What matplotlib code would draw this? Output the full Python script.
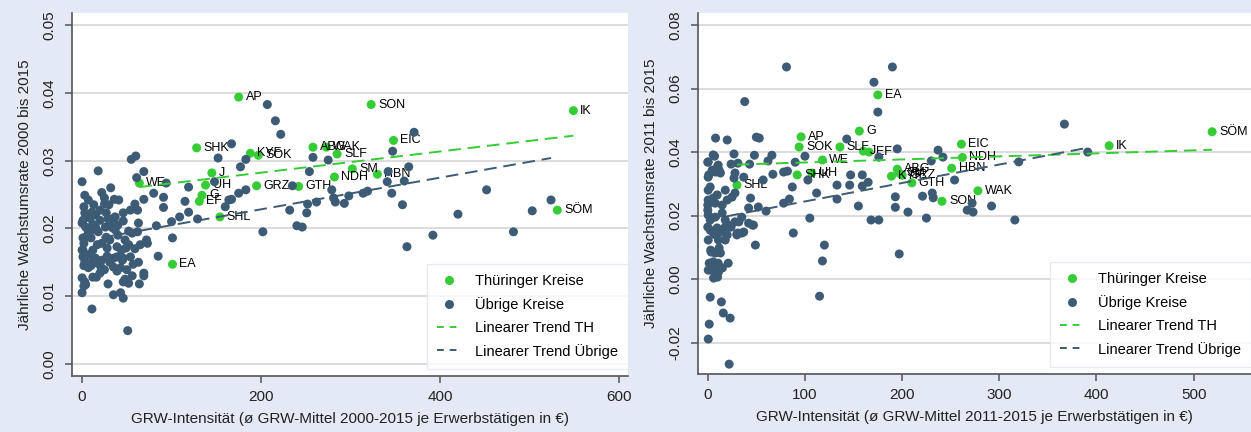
import numpy as np
import matplotlib
matplotlib.use("Agg")
import matplotlib.pyplot as plt
from matplotlib.lines import Line2D

plt.rcParams['font.family'] = ['Liberation Sans', 'DejaVu Sans']

# ---- panel 1: 2000-2015 ----
th_labels_1 = ["AP", "SHK", "KYF", "SOK", "J", "WE", "UH", "GRZ", "GTH", "G", "EF", "SHL",
               "ABG", "WAK", "SLF", "SON", "IK", "EIC", "SM", "NDH", "HBN", "SÖM", "EA"]
th_x_1 = [175, 128, 188, 197, 145, 64, 138, 195, 242, 134, 131, 154,
          258, 273, 285, 323, 549, 348, 302, 282, 330, 531, 101]
th_y_1 = [0.0394, 0.0319, 0.0311, 0.0308, 0.0282, 0.0267, 0.0264, 0.0263, 0.0262, 0.0249, 0.0240, 0.0217,
          0.0320, 0.0320, 0.0310, 0.0383, 0.0374, 0.0330, 0.0288, 0.0276, 0.0280, 0.0227, 0.0147]

other_x_1 = [207, 216, 222, 167, 152, 183, 177, 258, 254, 235, 55, 60, 61, 69, 18, 0, 3, 22, 32, 94,
             119, 80, 91, 69, 59, 115, 148, 175, 183, 167, 160, 252, 262, 232, 251, 129, 119, 109, 91,
             100, 83, 63, 101, 85, 72, 73, 69, 69, 64, 51, 11, 0, 2, 12, 0, 29, 35, 43, 46, 48, 50, 56,
             43, 39, 46, 22, 10, 1, 1,
             2, 4, 7, 1, 11, 15, 18, 26, 27, 31, 37, 39, 44, 52, 56, 62, 37, 46, 46, 54, 62, 27, 29, 35,
             25, 30, 2, 3, 1, 0, 11, 9, 12, 9, 41, 36, 59, 65, 54, 63, 35, 45, 15, 17, 21, 3, 7, 35, 39,
             46, 52, 3, 4, 20, 25, 16, 2, 0, 12, 17, 22, 28, 31, 40, 48, 52, 7, 13, 20, 15, 20, 25, 34,
             40, 4, 10, 7, 11, 28, 31, 49, 57,
             371, 275, 347, 365, 342, 341, 360, 279, 346, 319, 314, 298, 281, 283, 293, 452, 358, 420,
             503, 524, 240, 246, 392, 482, 202, 363, 164]
other_y_1 = [0.0383, 0.0359, 0.0339, 0.0325, 0.0304, 0.0302, 0.0291, 0.0305, 0.0284, 0.0263, 0.0302,
             0.0307, 0.0275, 0.0284, 0.0285, 0.0269, 0.0249, 0.0253, 0.0260, 0.0267, 0.0261, 0.0252,
             0.0246, 0.0243, 0.0236, 0.0240, 0.0269, 0.0252, 0.0257, 0.0243, 0.0232, 0.0236, 0.0239,
             0.0227, 0.0223, 0.0214, 0.0224, 0.0217, 0.0231,
             0.0210, 0.0204, 0.0208, 0.0186, 0.0159, 0.0183, 0.0178, 0.0134, 0.0130, 0.0118, 0.0049,
             0.0081, 0.0105, 0.0115, 0.0128, 0.0127, 0.0118, 0.0102, 0.0105, 0.0097, 0.0125, 0.0139,
             0.0130, 0.0142, 0.0158, 0.0156, 0.0153, 0.0145, 0.0158, 0.0168,
             0.0178, 0.0187, 0.0195, 0.0186, 0.0198, 0.0202, 0.0195, 0.0202, 0.0187, 0.0183, 0.0198,
             0.0173, 0.0168, 0.0196, 0.0193, 0.0195, 0.0217, 0.0211, 0.0223, 0.0227, 0.0227, 0.0223,
             0.0214, 0.0215, 0.0236, 0.0235, 0.0232, 0.0223, 0.0212, 0.0208, 0.0224, 0.0215, 0.0206,
             0.0198, 0.0242, 0.0243, 0.0170, 0.0176, 0.0158, 0.0150, 0.0156, 0.0153, 0.0156, 0.0149,
             0.0143, 0.0150, 0.0142, 0.0143, 0.0137, 0.0121, 0.0119, 0.0121, 0.0117, 0.0134, 0.0139,
             0.0128, 0.0145, 0.0168, 0.0168, 0.0176, 0.0178, 0.0171, 0.0205, 0.0190, 0.0183, 0.0176,
             0.0242, 0.0235, 0.0227, 0.0220, 0.0212, 0.0245, 0.0201, 0.0205, 0.0202, 0.0186, 0.0161,
             0.0150, 0.0159, 0.0150, 0.0171, 0.0147,
             0.0342, 0.0301, 0.0314, 0.0291, 0.0284, 0.0269, 0.0270, 0.0257, 0.0252, 0.0255, 0.0252,
             0.0248, 0.0245, 0.0239, 0.0237, 0.0257, 0.0235, 0.0221, 0.0226, 0.0242, 0.0204, 0.0202,
             0.0190, 0.0195, 0.0195, 0.0173, 0.0242]

# ---- panel 2: 2011-2015 ----
th_labels_2 = ["EA", "G", "AP", "SOK", "SLF", "J", "EF", "WE", "UH", "SHK", "SHL", "ABG",
               "KYF", "SM", "GRZ", "GTH", "SON", "WAK", "EIC", "NDH", "HBN", "IK", "SÖM"]
th_x_2 = [175, 156, 96, 94, 136, 160, 166, 118, 107, 92, 30, 195,
          189, 197, 200, 210, 241, 278, 261, 262, 251, 413, 519]
th_y_2 = [0.0580, 0.0466, 0.0448, 0.0416, 0.0416, 0.0403, 0.0400, 0.0375, 0.0334, 0.0328, 0.0296, 0.0346,
          0.0324, 0.0334, 0.0327, 0.0303, 0.0245, 0.0278, 0.0425, 0.0383, 0.0349, 0.0420, 0.0464]

other_x_2 = [81, 190, 171, 175, 38, 8, 20, 50, 53, 143, 195, 237, 242, 230, 176, 0, 7, 27, 24, 31,
             48, 43, 62, 66, 90, 100, 10, 1, 13, 8, 28, 37, 57, 67, 78, 82, 87, 103, 133, 147, 146,
             159, 165, 112, 84, 193, 193, 155, 206, 221, 231, 232, 78, 60, 52, 44, 105, 168, 176, 225,
             367, 391, 320, 254, 272, 267, 273, 292, 316, 159, 133, 88, 49, 120, 118, 197, 115, 2.5,
             14, 16, 23, 1.5, 0.5, 22, 21, 30, 37, 0.5, 8, 11, 18, 3, 13, 5, 8, 0.5, 11, 6, 10, 15,
             5.6, 0.4, 4.5, 0.4, 10.7, 11.7, 27, 18, 2.5, 0.4, 9.7, 5.6, 0.4, 0, 7.6, 14.8, 20, 25, 28,
             42, 0, 0.4, 2.5, 7.6, 14.8, 18, 21, 28, 35, 31, 42, 47, 0, 2.5, 5.6, 9.7, 14.8, 20, 23,
             3.5, 7.6, 11.7, 1.5, 5.6, 10.7, 14, 7.6, 3.5, 18, 24, 30, 35, 46, 32]
other_y_2 = [0.0668, 0.0668, 0.0620, 0.0526, 0.0559, 0.0444, 0.0438, 0.0447, 0.0444, 0.0441, 0.0410,
             0.0406, 0.0384, 0.0372, 0.0384, 0.0368, 0.0387, 0.0394, 0.0362, 0.0365, 0.0390, 0.0362,
             0.0372, 0.0390, 0.0368, 0.0387, 0.0353, 0.0328, 0.0334, 0.0337, 0.0334, 0.0321, 0.0312,
             0.0330, 0.0337, 0.0340, 0.0290, 0.0312, 0.0296, 0.0328, 0.0296, 0.0328, 0.0305, 0.0271,
             0.0252, 0.0259, 0.0226, 0.0230, 0.0211, 0.0261, 0.0271, 0.0256, 0.0239, 0.0214, 0.0227,
             0.0255, 0.0192, 0.0186, 0.0186, 0.0192, 0.0488, 0.0400, 0.0369, 0.0312, 0.0239, 0.0217,
             0.0211, 0.0230, 0.0186, 0.0293, 0.0252, 0.0145, 0.0107, 0.0107, 0.0057, 0.0079, -0.0054,
             -0.0057, -0.0072, -0.0107, -0.0123, -0.0142, -0.0189, -0.0268, 0.0050, 0.0142, 0.0148,
             0.0123, 0.0139, 0.0123, 0.0123, 0.0091, 0.0082, 0.0050, 0.0038, 0.0028, 0.0022, 0.0003,
             0.0006, 0.0035,
             0.0391, 0.0369, 0.0343, 0.0321, 0.0359, 0.0343, 0.0318, 0.0280, 0.0290, 0.0280, 0.0265,
             0.0255, 0.0249, 0.0233, 0.0239, 0.0233, 0.0249, 0.0258, 0.0271, 0.0224, 0.0217, 0.0202,
             0.0186, 0.0195, 0.0208, 0.0186, 0.0170, 0.0180, 0.0195, 0.0145, 0.0176, 0.0170, 0.0164,
             0.0154, 0.0145, 0.0161, 0.0148, 0.0139, 0.0164,
             0.0085, 0.0082, 0.0098, 0.0050, 0.0054, 0.0050, 0.0035, 0.0028, 0.0028, 0.0164, 0.0164,
             0.0139, 0.0145, 0.0170, 0.0180]

BG = "#E3EAF5"
GREEN = "#36CC36"
NAVY = "#3D5B75"
GRID = "#D9D9D9"
AXIS = "#555555"


def trend(ax, x, y, color):
    """Linear fit drawn over the x range of the group (like Stata lfit)."""
    x = np.asarray(x, float)
    y = np.asarray(y, float)
    b, a = np.polyfit(x, y, 1)
    xs = np.array([x.min(), x.max()])
    ax.plot(xs, a + b * xs, color=color, lw=1.4, dashes=(6.5, 3.5), zorder=5)


def panel(ax, tx, ty, tlab, ox, oy, xlim, ylim, xticks, yticks, xlabel, ylabel):
    ax.set_facecolor("white")
    ax.scatter(tx, ty, s=42, color=GREEN, edgecolors="none", zorder=3)
    for lab, x, y in zip(tlab, tx, ty):
        ax.annotate(lab, (x, y), xytext=(5, 0), textcoords="offset points",
                    va="center", ha="left", fontsize=9, color="black", zorder=3)
    ax.scatter(ox, oy, s=42, color=NAVY, edgecolors="none", zorder=4)
    trend(ax, tx, ty, GREEN)
    trend(ax, ox, oy, NAVY)

    ax.set_xlim(*xlim)
    ax.set_ylim(*ylim)
    ax.set_xticks(xticks)
    ax.set_yticks(yticks)
    ax.set_yticklabels([f"{v:.2f}" for v in yticks], rotation=90, va="center")
    ax.grid(axis="y", color=GRID, lw=1.3)
    ax.set_axisbelow(True)
    for s in ["top", "right"]:
        ax.spines[s].set_visible(False)
    for s in ["left", "bottom"]:
        ax.spines[s].set_color(AXIS)
        ax.spines[s].set_linewidth(1.2)
    ax.tick_params(colors=AXIS, labelcolor="#222222", labelsize=11, length=5, width=1.1)
    ax.tick_params(axis="x", pad=5)
    ax.tick_params(axis="y", pad=6)
    ax.set_xlabel(xlabel, fontsize=11, color="#222222", labelpad=6)
    ax.set_ylabel(ylabel, fontsize=11, color="#222222", labelpad=8)

    handles = [
        Line2D([], [], ls="none", marker="o", ms=6.5, color=GREEN, mec="none"),
        Line2D([], [], ls="none", marker="o", ms=6.5, color=NAVY, mec="none"),
        Line2D([], [], color=GREEN, lw=1.4, dashes=(3.5, 3)),
        Line2D([], [], color=NAVY, lw=1.4, dashes=(3.5, 3)),
    ]
    labels = ["Thüringer Kreise", "Übrige Kreise", "Linearer Trend TH", "Linearer Trend Übrige"]
    leg = ax.legend(handles, labels, loc="lower right", bbox_to_anchor=(1.0, 0.02),
                    fontsize=10.5, frameon=True, fancybox=False, borderpad=0.7,
                    labelspacing=0.6, handlelength=1.6, handletextpad=1.0, borderaxespad=0)
    leg.get_frame().set_edgecolor("#E2E7EE")
    leg.get_frame().set_linewidth(1.0)
    leg.set_zorder(10)


fig = plt.figure(figsize=(12.51, 4.32), dpi=100)
fig.patch.set_facecolor(BG)

ax1 = fig.add_axes([0.0576, 0.1296, 0.4444, 0.840])
panel(ax1, th_x_1, th_y_1, th_labels_1, other_x_1, other_y_1,
      (-11.2, 610), (-0.0018, 0.0518), [0, 200, 400, 600],
      [0.00, 0.01, 0.02, 0.03, 0.04, 0.05],
      "GRW-Intensität (ø GRW-Mittel 2000-2015 je Erwerbstätigen in €)",
      "Jährliche Wachstumsrate 2000 bis 2015")

ax2 = fig.add_axes([0.558, 0.1343, 0.442, 0.8356])
panel(ax2, th_x_2, th_y_2, th_labels_2, other_x_2, other_y_2,
      (-10, 559), (-0.0299, 0.0838), [0, 100, 200, 300, 400, 500],
      [-0.02, 0.00, 0.02, 0.04, 0.06, 0.08],
      "GRW-Intensität (ø GRW-Mittel 2011-2015 je Erwerbstätigen in €)",
      "Jährliche Wachstumsrate 2011 bis 2015")

fig.savefig("out.png", dpi=100, facecolor=BG)
